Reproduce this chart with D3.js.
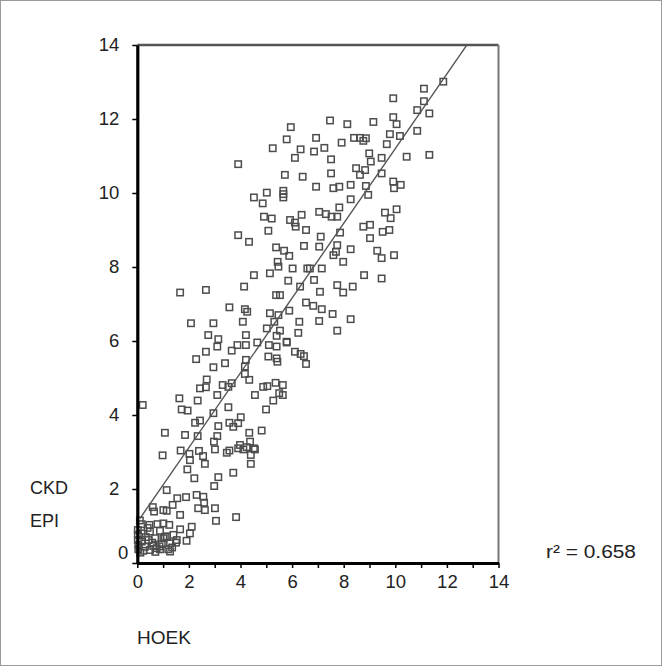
<!DOCTYPE html>
<html>
<head>
<meta charset="utf-8">
<script src="https://cdn.jsdelivr.net/npm/d3@7/dist/d3.min.js"></script>
<style>
  html, body { margin: 0; padding: 0; background: #fff; }
  svg { display: block; }
  text { font-family: Arial, "Liberation Sans", Helvetica, sans-serif; fill: #222; }
</style>
</head>
<body>
<svg id="chart" width="662" height="666"></svg>
<script>
// HOEK eGFR (x) vs CKD-EPI eGFR (y)
const hoek = [
  11.86,11.11,9.92,11.11,10.85,11.32,7.47,8.14,9.15,9.92,10.05,5.95,5.79,6.93,7.92,8.40,8.63,8.86,8.76,9.79,
  10.18,10.85,9.67,6.33,6.85,7.25,6.11,7.51,8.99,9.05,9.47,10.44,11.32,5.72,6.41,7.51,8.48,8.63,8.83,9.47,
  6.93,7.60,7.83,8.27,8.86,9.92,10.21,9.95,5.25,3.91,
  8.95,8.27,6.37,7.05,7.31,7.53,7.75,7.83,9.60,9.82,10.05,6.54,7.86,8.76,9.02,9.51,9.77,7.11,9.02,6.46,
  7.05,7.75,8.27,7.60,7.70,7.98,9.30,9.47,9.95,6.59,6.69,7.15,6.85,8.79,9.47,6.31,7.08,7.75,7.98,8.35,
  6.02,5.85,5.53,5.89,6.54,6.82,7.15,6.28,7.05,7.57,8.27,6.24,7.75,5.53,5.79,6.11,6.33,6.46,6.54,5.64,5.64,
  5.02,4.52,4.86,5.66,5.66,5.66,4.91,5.21,5.92,6.11,6.14,5.08,3.91,4.33,5.38,5.69,5.89,5.44,5.47,5.14,
  4.52,4.14,1.66,2.66,5.38,3.57,4.17,4.26,5.14,5.47,2.08,2.95,4.09,5.31,5.02,5.40,2.75,3.14,4.21,3.10,
  2.66,3.88,4.21,4.65,5.10,5.40,5.79,3.66,5.08,5.40,5.43,2.28,3.40,4.21,4.17,2.95,
  2.69,2.66,2.43,3.31,3.53,3.66,3.10,4.17,4.34,4.88,5.04,5.36,5.50,4.56,5.27,4.99,0.21,1.63,2.34,1.72,
  1.95,2.95,3.53,2.24,2.43,3.57,3.72,3.91,4.01,3.14,1.07,1.85,2.34,3.10,2.97,4.34,4.82,4.37,4.52,3.98,
  0.98,1.68,2.02,2.39,2.55,3.01,3.47,3.57,3.91,4.11,4.24,4.40,4.56,2.04,2.62,1.94,4.40,3.72,2.21,3.14,
  2.98,1.14,1.55,1.89,2.30,2.56,2.59,2.36,2.62,3.01,3.05,3.83,1.66,1.37,0.60,0.65,1.01,1.14,
  0.17,0.47,0.78,1.01,1.24,0.88,0.49,0.17,1.66,2.11,2.04,1.40,1.07,0.69,0.43,0.17,0.02,0.02,0.04,0.30,
  0.62,0.95,1.27,1.53,1.91,1.20,0.88,0.49,0.23,0.04,1.27,0.02,1.50,0.75,0.10,1.01,
  0.33,0.58,0.86,1.15,0.12,0.40,0.70,1.35
];
const ckdEpi = [
  13.01,12.82,12.56,12.48,12.24,12.15,11.96,11.86,11.92,12.05,11.86,11.78,11.45,11.49,11.36,11.49,11.49,11.48,11.41,11.59,
  11.54,11.68,11.32,11.18,11.12,11.22,10.95,10.91,11.07,10.85,10.95,10.98,11.03,10.49,10.44,10.53,10.67,10.49,10.62,10.53,
  10.17,10.13,10.17,10.22,10.19,10.31,10.22,10.13,11.21,10.78,
  9.95,9.83,9.41,9.49,9.43,9.36,9.36,9.61,9.47,9.32,9.56,9.00,8.93,9.09,9.14,8.95,9.00,8.82,8.78,8.57,
  8.55,8.59,8.48,8.32,8.41,8.14,8.44,8.24,8.32,7.96,7.96,7.96,7.65,7.78,7.69,7.47,7.33,7.51,7.31,7.47,
  7.96,7.63,7.24,6.82,7.04,6.95,6.86,6.52,6.54,6.73,6.59,6.22,6.28,6.28,5.98,5.71,5.65,5.59,5.38,4.81,4.54,
  10.01,9.88,9.72,10.06,9.97,9.88,9.36,9.31,9.27,9.20,9.09,8.98,8.86,8.68,8.53,8.44,8.30,8.14,8.01,7.83,
  7.78,7.47,7.31,7.38,7.24,6.91,6.86,6.79,6.75,6.70,6.48,6.48,6.52,6.52,6.34,6.14,6.16,6.05,6.16,5.85,
  5.71,5.89,5.89,5.96,5.89,5.85,5.96,5.74,5.58,5.53,5.44,5.51,5.40,5.49,5.31,5.29,
  4.96,4.75,4.72,4.81,4.76,4.86,4.54,5.11,4.95,4.76,4.78,4.87,4.59,4.54,4.39,4.15,4.27,4.45,4.39,4.15,
  4.12,4.05,4.21,3.79,3.85,3.79,3.68,3.78,3.94,3.70,3.52,3.46,3.43,3.43,3.28,3.52,3.58,3.28,3.10,3.19,
  2.91,3.04,2.95,3.03,2.89,3.07,2.98,3.04,3.10,3.07,3.13,2.92,3.07,2.78,2.68,2.53,2.68,2.44,2.29,2.32,
  2.08,1.97,1.75,1.78,1.84,1.79,1.63,1.48,1.43,1.48,1.14,1.24,1.30,1.57,1.51,1.39,1.43,1.41,
  1.05,1.03,1.05,1.07,1.03,0.87,0.85,0.80,0.91,0.98,0.80,0.76,0.71,0.67,0.62,0.58,0.76,0.62,0.49,0.44,
  0.46,0.51,0.53,0.62,0.60,0.37,0.37,0.35,0.33,0.37,0.31,0.89,0.55,0.40,1.15,0.67,
  0.70,0.55,0.45,0.72,0.28,0.95,0.30,0.42
];
// regression line endpoints (x values) and fit
const fitX = [0.1, 12.77];
const fitSlope = 1.01;
const fitIntercept = 1.1;
const xTicks = d3.range(0, 15, 1);
const yTicks = [0, 2, 4, 6, 8, 10, 12, 14];
const yAxisTitle = ["CKD", "EPI"];
const xAxisTitle = "HOEK";
const r2Label = "r² = 0.658";

const svg = d3.select("#chart");
const W = 662, H = 666;

// outer frame
svg.append("rect").attr("x", 0.5).attr("y", 0.5).attr("width", W - 1).attr("height", H - 1)
  .attr("fill", "none").attr("stroke", "#9a9a9a").attr("stroke-width", 1);

const x = d3.scaleLinear().domain([0, 14]).range([137.3, 498.5]);
const y = d3.scaleLinear().domain([0, 14]).range([563, 45]);

// top and right frame
svg.append("line").attr("x1", x(0)).attr("x2", x(14)).attr("y1", y(14)).attr("y2", y(14))
  .attr("stroke", "#555").attr("stroke-width", 2.6);
svg.append("line").attr("x1", x(14)).attr("x2", x(14)).attr("y1", y(14)).attr("y2", y(0))
  .attr("stroke", "#777").attr("stroke-width", 2);

// points
const pts = hoek.map((v, i) => [v, ckdEpi[i]]);
const s = 6.4;
svg.append("g").selectAll("rect").data(pts).join("rect")
  .attr("x", d => x(d[0]) - s / 2)
  .attr("y", d => y(d[1]) - s / 2)
  .attr("width", s).attr("height", s)
  .attr("fill", "none")
  .attr("stroke", "#4d4d4d")
  .attr("stroke-width", 1.5);

// regression line
svg.append("line")
  .attr("x1", x(fitX[0])).attr("y1", y(fitSlope * fitX[0] + fitIntercept))
  .attr("x2", x(fitX[1])).attr("y2", y(fitSlope * fitX[1] + fitIntercept))
  .attr("stroke", "#555").attr("stroke-width", 1.4);

// y axis
const gy = svg.append("g").attr("transform", `translate(${x(0)},0)`)
  .call(d3.axisLeft(y).tickValues(yTicks).tickSize(5).tickSizeOuter(0).tickPadding(13).tickFormat(d3.format("d")));
gy.select(".domain").attr("stroke", "#000").attr("stroke-width", 3.2);
gy.selectAll(".tick line").attr("stroke", "#000").attr("stroke-width", 1.5);
gy.selectAll(".tick text").attr("font-size", 18.5).attr("fill", "#222")
  .attr("font-family", "Arial, 'Liberation Sans', sans-serif");
gy.selectAll(".tick").filter(d => d === 0).select("text").attr("x", -9).attr("dy", "-0.22em");

// x axis
const gx = svg.append("g").attr("transform", `translate(0,${y(0)})`)
  .call(d3.axisBottom(x).tickValues(xTicks).tickSize(5).tickSizeOuter(0).tickPadding(7)
    .tickFormat(d => d % 2 === 0 ? d : ""));
gx.select(".domain").attr("stroke", "#000").attr("stroke-width", 3);
gx.selectAll(".tick line").attr("stroke", "#000").attr("stroke-width", 1.5);
gx.selectAll(".tick text").attr("font-size", 18.5).attr("fill", "#222")
  .attr("font-family", "Arial, 'Liberation Sans', sans-serif");

// titles
svg.append("text").attr("x", 30).attr("y", 488).attr("dy", "0.35em").attr("font-size", 18).text(yAxisTitle[0]);
svg.append("text").attr("x", 30).attr("y", 521).attr("dy", "0.35em").attr("font-size", 18).text(yAxisTitle[1]);
svg.append("text").attr("x", 137).attr("y", 637).attr("dy", "0.35em").attr("font-size", 19).text(xAxisTitle);
svg.append("text").attr("x", 546).attr("y", 552).attr("dy", "0.35em").attr("font-size", 17.5)
  .attr("textLength", 90).attr("lengthAdjust", "spacingAndGlyphs").text(r2Label);
</script>
</body>
</html>
